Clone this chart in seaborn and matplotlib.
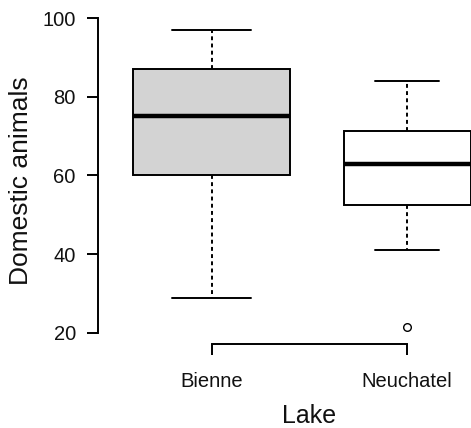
import numpy as np
import pandas as pd
import matplotlib
matplotlib.use("Agg")
import matplotlib.pyplot as plt
import seaborn as sns

# ---- data ----
lakes = ["Bienne", "Neuchatel"]
bienne_values = [29, 60, 75, 87, 97]
neuchatel_values = [21.5, 41, 52.5, 58, 63, 67, 71.3, 78, 84]
box_fills = ["#d3d3d3", "#ffffff"]
box_widths = [0.80, 0.65]
y_ticks = [20, 40, 60, 80, 100]

df = pd.DataFrame({
    "Lake": ["Bienne"] * len(bienne_values) + ["Neuchatel"] * len(neuchatel_values),
    "Domestic animals": bienne_values + neuchatel_values,
})

sns.set_style("ticks")
plt.rcParams["font.family"] = ["Liberation Sans", "DejaVu Sans"]

W, H = 471, 428
fig = plt.figure(figsize=(W / 100, H / 100), dpi=100)
ax = fig.add_axes([98 / W, 84 / H, 422.7 / W, 326 / H])

lw = 1.4
for lake, fill, wdt in zip(lakes, box_fills, box_widths):
    sub = df[df["Lake"] == lake]
    sns.boxplot(
        data=sub, x="Lake", y="Domestic animals", order=lakes, ax=ax,
        width=wdt, color=fill, saturation=1, linecolor="black", linewidth=lw,
        whis=1.5,
        boxprops=dict(linewidth=lw, edgecolor="black"),
        whiskerprops=dict(linestyle=(0, (2.0, 1.7)), linewidth=lw, color="black"),
        capprops=dict(linewidth=lw, color="black", gid="cap"),
        medianprops=dict(linewidth=3.2, color="black"),
        flierprops=dict(marker="o", markersize=5.5, markerfacecolor="white",
                        markeredgecolor="black", markeredgewidth=1.0),
    )

# caps at half the box width (R style)
for line in ax.lines:
    if line.get_gid() == "cap":
        xd = np.asarray(line.get_xdata(), dtype=float)
        c = xd.mean()
        idx = int(round(c))
        half = box_widths[idx] / 4
        line.set_xdata([c - half, c + half])

ax.set_xlim(-0.58, 1.58)
ax.set_ylim(17.2, 100)
ax.set_yticks(y_ticks)
ax.set_xticks([0, 1])
ax.set_xticklabels(lakes)

for s in ["top", "right"]:
    ax.spines[s].set_visible(False)
for s in ["left", "bottom"]:
    ax.spines[s].set_linewidth(lw)
    ax.spines[s].set_color("black")
ax.spines["left"].set_bounds(20, 100)
ax.spines["bottom"].set_bounds(0, 1)

ax.tick_params(axis="both", length=8, width=lw, color="black", labelcolor="#111111")
ax.tick_params(axis="x", labelsize=14.5, pad=12)
ax.tick_params(axis="y", labelsize=14.5, pad=8)

ax.set_ylabel("Domestic animals", fontsize=19, labelpad=7, color="#111111")
ax.set_xlabel("Lake", fontsize=18, labelpad=9.5, color="#111111")

fig.savefig("out.png", dpi=100)
